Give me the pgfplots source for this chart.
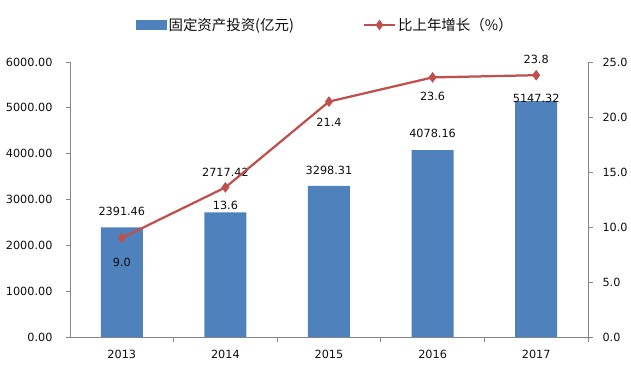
\documentclass[border=0pt]{standalone}
\usepackage{pgfplots}
\pgfplotsset{compat=1.18}
\usepackage{fontspec}
\setmainfont{DejaVu Sans}
\newfontfamily\cjk{Noto Sans CJK SC}
\definecolor{barblue}{HTML}{4F81BD}
\definecolor{linered}{HTML}{C0504D}
\definecolor{axgray}{HTML}{868686}
\definecolor{txt}{HTML}{0D0D0D}
\pgfplotsset{/pgf/number format/assume math mode=true}
\begin{document}
\begin{tikzpicture}[font=\fontsize{11.3}{13}\selectfont, text=txt]
\path[use as bounding box] (-70bp,-28bp) rectangle (561bp,337bp);
\begin{axis}[
  scale only axis, width=518bp, height=275bp,
  xmin=-0.5, xmax=4.5, ymin=0, ymax=6000,
  axis y line*=left, axis x line*=bottom,
  axis line style={axgray, line width=0.8bp, -},
  tick style={axgray, line width=0.8bp},
  tick align=outside,
  xtick={0,1,2,3,4}, xticklabels={2013,2014,2015,2016,2017},
  major x tick style={draw=none},
  minor xtick={0.5,1.5,2.5,3.5,4.5},
  minor tick length=5bp, major tick length=4bp,
  ytick={0,1000,...,6000},
  yticklabel style={/pgf/number format/fixed, /pgf/number format/fixed zerofill, /pgf/number format/precision=2, /pgf/number format/1000 sep={}, xshift=-10bp},
  xticklabel style={yshift=-6bp},
  clip=false,
]
\addplot[ybar, bar width=42bp, fill=barblue, draw=none] coordinates {
  (0,2391.46) (1,2717.42) (2,3298.31) (3,4078.16) (4,5147.32)};
\node at (axis cs:0,2730) {2391.46};
\node at (axis cs:1,3600) {2717.42};
\node at (axis cs:2,3644) {3298.31};
\node at (axis cs:3,4451) {4078.16};
\node at (axis cs:4,5215) {5147.32};
\end{axis}
\begin{axis}[
  scale only axis, width=518bp, height=275bp,
  xmin=-0.5, xmax=4.5, ymin=0, ymax=25,
  axis y line*=right, axis x line=none,
  axis line style={axgray, line width=0.8bp, -},
  tick style={axgray, line width=0.8bp},
  tick align=outside, major tick length=5bp,
  ytick={0,5,...,25},
  yticklabel style={/pgf/number format/fixed, /pgf/number format/fixed zerofill, /pgf/number format/precision=1, xshift=6bp},
  clip=false,
  legend style={at={(0.1216,1.1345)}, anchor=west, draw=none, fill=none,
    font=\cjk\fontsize{14.5}{16}\selectfont, legend cell align=left,
    /tikz/every even column/.append style={column sep=67bp}},
  legend columns=2,
]
\addlegendimage{legend image code/.code={\fill[barblue] (0bp,-4.5bp) rectangle (30bp,4.5bp);}}
\addlegendentry{固定资产投资(亿元)}
\addplot[linered, line width=2.25bp, mark=diamond*, mark size=3.5bp, mark options={solid},
  legend image code/.code={\draw[linered, line width=2.25bp] (0bp,0bp) -- (31bp,0bp);
    \fill[linered] (15.5bp,3.5bp) -- (18bp,0bp) -- (15.5bp,-3.5bp) -- (13bp,0bp) -- cycle;}]
  coordinates {(0,9.0) (1,13.6) (2,21.4) (3,23.6) (4,23.8)};
\addlegendentry{比上年增长（\%）}
\node at (axis cs:0,6.8) {9.0};
\node at (axis cs:1,12.0) {13.6};
\node at (axis cs:2,19.5) {21.4};
\node at (axis cs:3,21.9) {23.6};
\node at (axis cs:4,25.2) {23.8};
\end{axis}
\end{tikzpicture}
\end{document}
